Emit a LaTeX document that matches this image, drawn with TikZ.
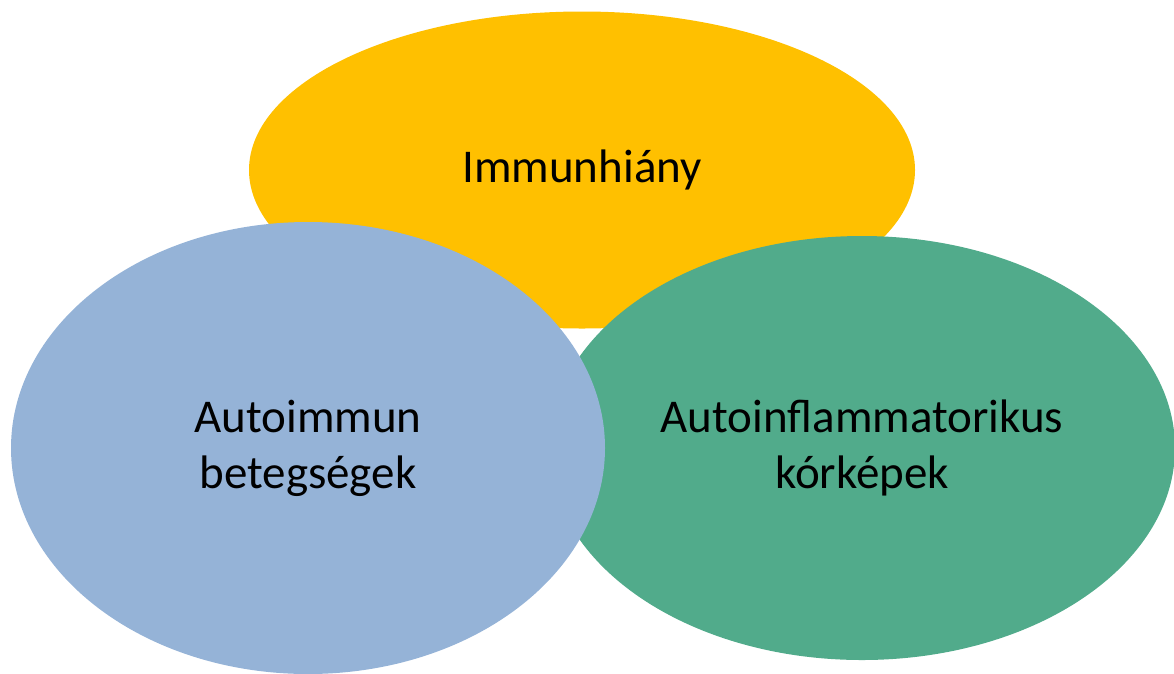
\documentclass[tikz,border=0pt]{standalone}
\usepackage{fontspec}
\setmainfont{Carlito}
\usetikzlibrary{shapes.geometric}
\definecolor{cyellow}{HTML}{FFC000}
\definecolor{cblue}{HTML}{95B3D7}
\definecolor{cgreen}{HTML}{51AB8B}
\begin{document}
\begin{tikzpicture}[x=1pt,y=-1pt,
  blob/.style={ellipse, inner sep=0pt, align=center, text=black,
    font=\fontsize{47}{56}\selectfont}]
\useasboundingbox (0,0) rectangle (1174,673);
\node[blob, fill=cyellow, minimum width=666pt, minimum height=317pt] (imm) at (582,170) {Immunhi\'any};
\node[blob, fill=cgreen, minimum width=626pt, minimum height=424pt] (ainf) at (862,448) {Autoinflammatorikus\\k\'ork\'epek};
\node[blob, fill=cblue, minimum width=594pt, minimum height=452pt] (aimm) at (308,448) {Autoimmun\\beteg\-s\'egek};
\end{tikzpicture}
\end{document}
